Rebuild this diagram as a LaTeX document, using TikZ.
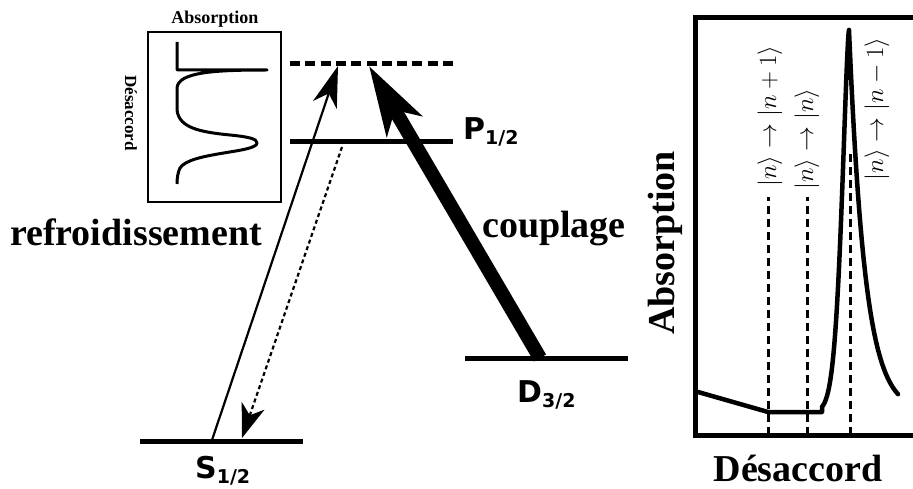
\documentclass[tikz,border=0pt]{standalone}
\usepackage{fontspec}
\setmainfont{Liberation Serif}
\newfontfamily\lvlfont{DejaVu Sans}
\usetikzlibrary{arrows.meta}
\begin{document}
\begin{tikzpicture}[x=1pt,y=-1pt,
  bigtxt/.style={font=\bfseries\fontsize{38}{38}\selectfont, inner sep=0pt},
  smalltxt/.style={font=\bfseries\fontsize{17}{17}\selectfont, inner sep=0pt},
  lvltxt/.style={font=\lvlfont\bfseries\fontsize{30}{30}\selectfont, inner sep=0pt, anchor=base west},
  level/.style={line width=5pt},
  vlevel/.style={line width=5pt, dash pattern=on 10pt off 5.3pt},
  ketlbl/.style={rotate=90, font=\fontsize{26}{26}\selectfont, inner sep=0pt},
  vdash/.style={line width=3pt, dash pattern=on 8pt off 5pt},
  curve/.style={line width=4.5pt, line join=round, line cap=round}]
\useasboundingbox (0,0) rectangle (913,489);

% ---------- inset ----------
\node[draw, line width=2pt, minimum width=133pt, minimum height=170pt, inner sep=0pt] (inset) at (214.5,117) {};
\node[smalltxt, font=\bfseries\fontsize{18}{18}\selectfont] (insettitle) at (215,19) {Absorption};
\node[smalltxt, rotate=-90] (insetaxis) at (131,113) {Désaccord};
\draw[line width=3pt, line join=round] (177,42) -- (177,70) -- (267,70)
  .. controls (215,70) and (178,72) .. (177,88) -- (177,110)
  .. controls (179,128) and (200,132) .. (230,135)
  .. controls (250,137) and (257,139) .. (257,143)
  .. controls (257,153) and (190,152) .. (180,168)
  .. controls (178,172) and (177,178) .. (177,184);

% ---------- energy levels ----------
\coordinate (vL) at (290,64);  \coordinate (vR) at (453,64);
\coordinate (pL) at (290,142); \coordinate (pR) at (453,142);
\coordinate (sL) at (140,441); \coordinate (sR) at (303,441);
\coordinate (dL) at (465,358); \coordinate (dR) at (628,358);
\draw[vlevel] (vL) -- (vR);
\draw[level] (pL) -- (pR);
\draw[level] (sL) -- (sR);
\draw[level] (dL) -- (dR);

\node[lvltxt] (plbl) at (463,140) {P\raisebox{-5pt}{\fontsize{19}{19}\selectfont 1/2}};
\node[lvltxt] (slbl) at (195,478) {S\raisebox{-5pt}{\fontsize{19}{19}\selectfont 1/2}};
\node[lvltxt] (dlbl) at (517,402) {D\raisebox{-5pt}{\fontsize{19}{19}\selectfont 3/2}};

% arrows
\coordinate (pumpA) at (212,440); \coordinate (pumpB) at (338,66);
\coordinate (decA) at (342,147);  \coordinate (decB) at (242,438);
\coordinate (cplA) at (540,358);  \coordinate (cplB) at (369,66);
\draw[line width=2.2pt, -{Stealth[length=41pt, width=25pt, inset=12pt]}] (pumpA) -- (pumpB);
\draw[line width=2.2pt, dash pattern=on 4pt off 3pt, -{Stealth[length=34pt, width=24pt, inset=10pt]}] (decA) -- (decB);
\draw[line width=14pt, -{Stealth[length=69pt, width=40pt, inset=18pt]}] (cplA) -- (cplB);

\node[bigtxt, anchor=base] (refr) at (136,245) {refroidissement};
\node[bigtxt, anchor=base] (coup) at (554,237) {couplage};

% ---------- right plot ----------
\draw[line width=5pt] (915,18) -- (695,18) -- (695,435) -- (915,435);
\node[bigtxt, rotate=90] (yax) at (665,243) {Absorption};
\node[bigtxt, anchor=base] (xax) at (798,481) {Désaccord};

\draw[curve] (698,392) -- (768,412) -- (822,412)
  -- plot[domain=822:849, samples=80] (\x,{412-382*exp(-(((849.001-\x)/10.2)^1.5))})
  -- plot[domain=849:898, samples=60] (\x,{412-382*exp(-(\x-849)/16)});

\draw[vdash] (768,435) -- (768,197);
\draw[vdash] (807,435) -- (807,197);
\draw[white, line width=2pt] (850,300) -- (850,150);
\draw[vdash] (850,435) -- (850,150);

\node[ketlbl] (k1) at (770,116) {$|n\rangle\rightarrow|n+1\rangle$};
\node[ketlbl] (k2) at (807,139) {$|n\rangle\rightarrow|n\rangle$};
\node[ketlbl] (k3) at (877,109) {$|n\rangle\rightarrow|n-1\rangle$};
\end{tikzpicture}
\end{document}
